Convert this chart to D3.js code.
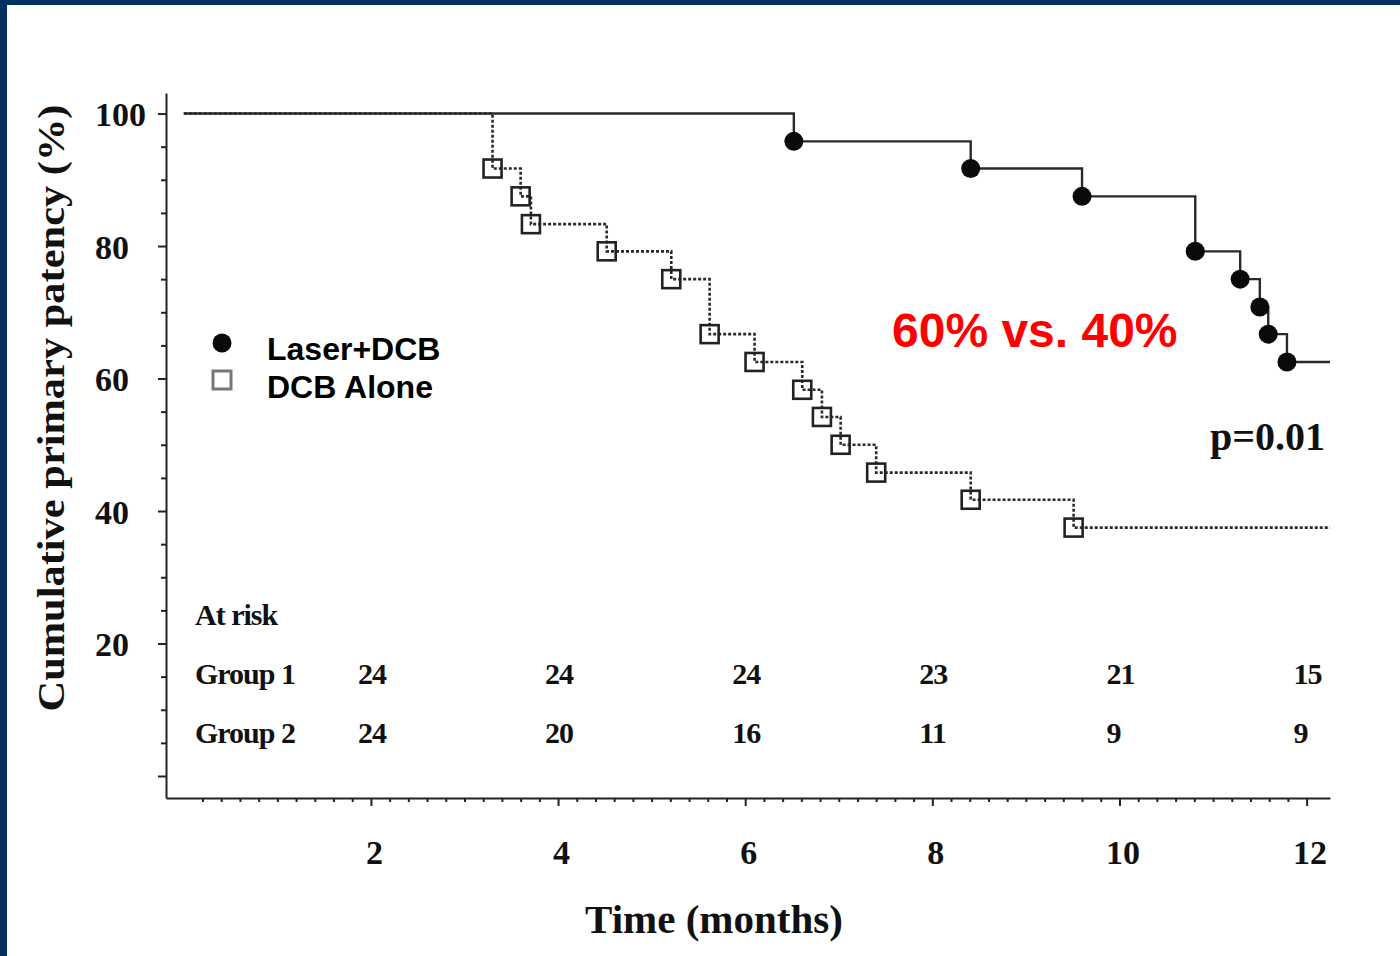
<!DOCTYPE html>
<html>
<head>
<meta charset="utf-8">
<script src="https://cdn.jsdelivr.net/npm/d3@7"></script>
<style>
  html, body { margin: 0; padding: 0; background: #03315f; }
  svg { display: block; }
</style>
</head>
<body>
<div id="chart"></div>
<script>
// Kaplan-Meier steps (months, % patency)
const group1Times = [6.52, 8.41, 9.60, 10.81, 11.29, 11.50, 11.59, 11.79];
const group1Values = [95.8, 91.7, 87.5, 79.2, 75.0, 70.8, 66.7, 62.5];
const group2Times = [3.30, 3.60, 3.71, 4.52, 5.21, 5.62, 6.10, 6.61, 6.82, 7.02, 7.40, 8.41, 9.51];
const group2Values = [91.7, 87.5, 83.3, 79.2, 75.0, 66.7, 62.5, 58.3, 54.2, 50.0, 45.8, 41.7, 37.5];
const endTime = 12.25;

const xTicks = [2, 4, 6, 8, 10, 12];
const yTicks = [0, 20, 40, 60, 80, 100];
const riskTimes = [2, 4, 6, 8, 10, 12];
const riskGroup1 = [24, 24, 24, 23, 21, 15];
const riskGroup2 = [24, 20, 16, 11, 9, 9];
const legendLabels = ['Laser+DCB', 'DCB Alone'];

const W = 1400, H = 956;
const serif = '"Liberation Serif", "Times New Roman", serif';
const sans = '"Liberation Sans", Arial, sans-serif';

const svg = d3.select('#chart').append('svg')
  .attr('width', W)
  .attr('height', H);

// navy slide frame + white page
svg.append('rect').attr('width', W).attr('height', H).attr('fill', '#03315f');
svg.append('rect').attr('x', 7).attr('y', 5).attr('width', W - 7).attr('height', H - 5).attr('fill', '#ffffff');

// scales
const x = d3.scaleLinear().domain([-0.19, endTime]).range([166, 1330]);
const y = d3.scaleLinear().domain([-3.32, 103.1]).range([798, 93]);

// y axis
const yAxis = svg.append('g')
  .attr('transform', 'translate(166,0)')
  .call(d3.axisLeft(y).tickValues(yTicks).tickSize(8).tickSizeOuter(0)
    .tickFormat(d => d === 0 ? '' : d));
svg.append('g')
  .attr('transform', 'translate(166,0)')
  .call(d3.axisLeft(y).tickValues(d3.range(5, 101, 5).filter(v => v % 20 !== 0)).tickSize(5).tickFormat(''))
  .call(g => g.select('.domain').remove());

// x axis
const xAxis = svg.append('g')
  .attr('transform', 'translate(0,798)')
  .call(d3.axisBottom(x).tickValues(xTicks).tickSize(8).tickSizeOuter(0).tickPadding(34));
svg.append('g')
  .attr('transform', 'translate(0,798)')
  .call(d3.axisBottom(x).tickValues(d3.range(0, 61).map(i => i * 0.2).filter(v => Math.abs(v / 2 - Math.round(v / 2)) > 0.01))
    .tickSize(4).tickFormat(''))
  .call(g => g.select('.domain').remove());

svg.selectAll('.domain').attr('stroke', '#222').attr('stroke-width', 2);
svg.selectAll('.tick line').attr('stroke', '#222').attr('stroke-width', 2);
[xAxis, yAxis].forEach(g => g.selectAll('text')
  .attr('fill', '#111')
  .style('font-family', serif)
  .style('font-weight', 'bold')
  .style('font-size', '34px'));
xAxis.selectAll('text').attr('dx', 3);
// y labels sit left-aligned in the reference
yAxis.selectAll('text')
  .attr('text-anchor', 'start')
  .attr('x', 95 - 166)
  .attr('dy', '0.36em');

// axis titles
svg.append('text')
  .attr('transform', 'translate(64,408) rotate(-90)')
  .attr('text-anchor', 'middle')
  .attr('textLength', 607)
  .attr('lengthAdjust', 'spacingAndGlyphs')
  .style('font-family', serif).style('font-weight', 'bold').style('font-size', '37px')
  .attr('fill', '#111')
  .text('Cumulative primary patency (%)');

svg.append('text')
  .attr('x', 714).attr('y', 933)
  .attr('text-anchor', 'middle')
  .style('font-family', serif).style('font-weight', 'bold').style('font-size', '41px')
  .attr('fill', '#111')
  .text('Time (months)');

// step curves
const line = d3.line().x(d => x(d[0])).y(d => y(d[1])).curve(d3.curveStepAfter);
const steps = (times, values) => [[0, 100]]
  .concat(times.map((t, i) => [t, values[i]]))
  .concat([[endTime, values[values.length - 1]]]);

svg.append('path')
  .datum(steps(group2Times, group2Values))
  .attr('d', line)
  .attr('fill', 'none')
  .attr('stroke', '#2a2a2a')
  .attr('stroke-width', 2.6)
  .attr('stroke-dasharray', '3,2');

svg.append('path')
  .datum(steps(group1Times, group1Values))
  .attr('d', line)
  .attr('fill', 'none')
  .attr('stroke', '#2a2a2a')
  .attr('stroke-width', 2.4);

// markers
svg.selectAll('rect.g2')
  .data(group2Times.map((t, i) => [t, group2Values[i]]))
  .enter().append('rect')
  .attr('class', 'g2')
  .attr('x', d => x(d[0]) - 9)
  .attr('y', d => y(d[1]) - 9)
  .attr('width', 18).attr('height', 18)
  .attr('fill', 'none')
  .attr('stroke', '#222')
  .attr('stroke-width', 2.6);

svg.selectAll('circle.g1')
  .data(group1Times.map((t, i) => [t, group1Values[i]]))
  .enter().append('circle')
  .attr('class', 'g1')
  .attr('cx', d => x(d[0]))
  .attr('cy', d => y(d[1]))
  .attr('r', 9.5)
  .attr('fill', '#0a0a0a');

// legend
const legend = svg.append('g');
legend.append('circle').attr('cx', 222).attr('cy', 343).attr('r', 9.5).attr('fill', '#0a0a0a');
legend.append('rect').attr('x', 213).attr('y', 371).attr('width', 18).attr('height', 18)
  .attr('fill', 'none').attr('stroke', '#777').attr('stroke-width', 3);
legend.selectAll('text')
  .data(legendLabels)
  .enter().append('text')
  .attr('x', 267)
  .attr('y', (d, i) => 360 + i * 38)
  .style('font-family', sans).style('font-weight', 'bold').style('font-size', '32px')
  .attr('fill', '#000')
  .text(d => d);

// annotations
svg.append('text')
  .attr('x', 892).attr('y', 347)
  .style('font-family', sans).style('font-weight', 'bold').style('font-size', '48px')
  .attr('fill', '#ff0000')
  .text('60% vs. 40%');

svg.append('text')
  .attr('x', 1325).attr('y', 450)
  .attr('text-anchor', 'end')
  .style('font-family', serif).style('font-weight', 'bold').style('font-size', '40px')
  .attr('fill', '#111')
  .text('p=0.01');

// at-risk table
const table = svg.append('g')
  .style('font-family', serif).style('font-weight', 'bold').style('font-size', '30px')
  .style('letter-spacing', '-1px')
  .attr('fill', '#111');
table.append('text').attr('x', 195).attr('y', 625).text('At risk');
table.append('text').attr('x', 195).attr('y', 684).text('Group 1');
table.append('text').attr('x', 195).attr('y', 743).text('Group 2');
[riskGroup1, riskGroup2].forEach((row, r) => {
  table.selectAll('text.r' + r)
    .data(row)
    .enter().append('text')
    .attr('class', 'r' + r)
    .attr('x', (d, i) => x(riskTimes[i]) - 13)
    .attr('y', 684 + r * 59)
    .text(d => d);
});
</script>
</body>
</html>
